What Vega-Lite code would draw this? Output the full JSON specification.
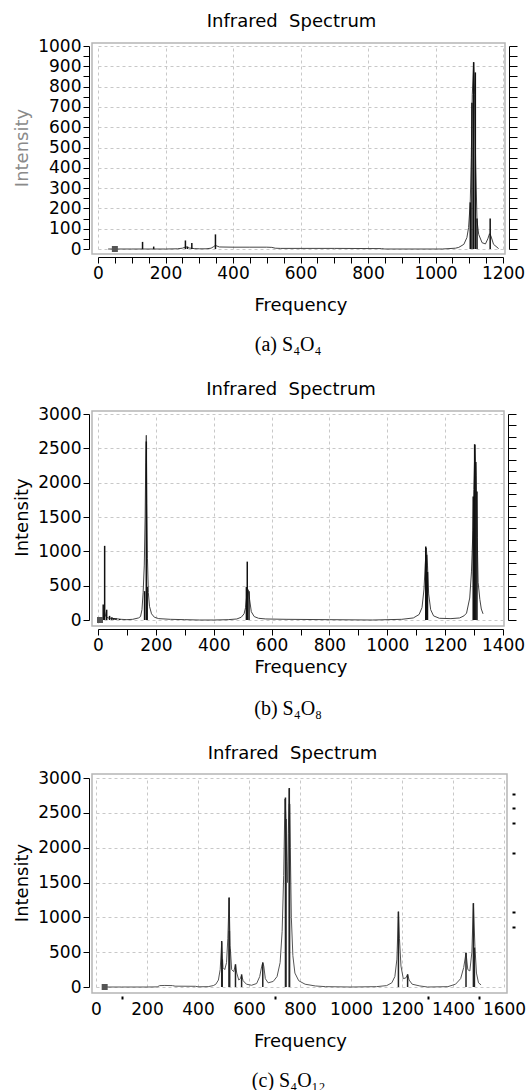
{
  "$schema": "https://vega.github.io/schema/vega-lite/v6.json",
  "padding": {"left": 12, "top": 12, "right": 0, "bottom": 0},
  "spacing": 25,
  "config": {
    "view": {"stroke": "#b5b5b5", "strokeWidth": 1.5},
    "axis": {"labelFont": "DejaVu Sans", "labelFontSize": 17, "titleFont": "DejaVu Sans", "titleFontSize": 18, "titleFontWeight": "normal", "labelColor": "#000", "titleColor": "#000", "domainColor": "#000", "tickColor": "#000", "gridColor": "#c8c8c8", "gridDash": [3, 3], "labelPadding": 2, "tickSize": 6, "labelOverlap": false, "labelFlush": false, "format": "d"},
    "title": {"font": "DejaVu Sans", "fontSize": 18, "fontWeight": "normal", "color": "#000"}
  },
  "datasets": {
    "a_curve": [
      {"frequency": 30, "intensity": 0}, {"frequency": 100, "intensity": 0}, {"frequency": 200, "intensity": 0}, {"frequency": 235, "intensity": 1}, {"frequency": 250, "intensity": 4}, {"frequency": 258, "intensity": 9}, {"frequency": 263, "intensity": 10}, {"frequency": 270, "intensity": 5}, {"frequency": 285, "intensity": 2}, {"frequency": 300, "intensity": 1}, {"frequency": 320, "intensity": 1}, {"frequency": 335, "intensity": 4}, {"frequency": 343, "intensity": 12}, {"frequency": 348, "intensity": 18}, {"frequency": 353, "intensity": 14}, {"frequency": 360, "intensity": 10}, {"frequency": 400, "intensity": 9}, {"frequency": 450, "intensity": 9}, {"frequency": 500, "intensity": 9}, {"frequency": 515, "intensity": 8}, {"frequency": 525, "intensity": 4}, {"frequency": 540, "intensity": 3}, {"frequency": 700, "intensity": 3}, {"frequency": 840, "intensity": 2}, {"frequency": 850, "intensity": 0}, {"frequency": 1020, "intensity": 0}, {"frequency": 1040, "intensity": 2}, {"frequency": 1059, "intensity": 4}, {"frequency": 1069, "intensity": 8}, {"frequency": 1084, "intensity": 23}, {"frequency": 1093, "intensity": 56}, {"frequency": 1098, "intensity": 105}, {"frequency": 1103, "intensity": 230}, {"frequency": 1106, "intensity": 450}, {"frequency": 1109, "intensity": 760}, {"frequency": 1113, "intensity": 920}, {"frequency": 1116, "intensity": 760}, {"frequency": 1119, "intensity": 420}, {"frequency": 1123, "intensity": 140}, {"frequency": 1128, "intensity": 72}, {"frequency": 1138, "intensity": 31}, {"frequency": 1148, "intensity": 25}, {"frequency": 1155, "intensity": 50}, {"frequency": 1160, "intensity": 75}, {"frequency": 1164, "intensity": 65}, {"frequency": 1172, "intensity": 23}, {"frequency": 1187, "intensity": 2}
    ],
    "a_sticks": [
      {"frequency": 132, "intensity": 35}, {"frequency": 165, "intensity": 12}, {"frequency": 259, "intensity": 42}, {"frequency": 265, "intensity": 12}, {"frequency": 278, "intensity": 30}, {"frequency": 348, "intensity": 72}, {"frequency": 1103, "intensity": 230}, {"frequency": 1108, "intensity": 720}, {"frequency": 1113, "intensity": 920}, {"frequency": 1118, "intensity": 870}, {"frequency": 1123, "intensity": 150}, {"frequency": 1162, "intensity": 150}
    ],
    "a_mark": [{"frequency": 50, "intensity": 0}],
    "b_curve": [
      {"frequency": 5, "intensity": 0}, {"frequency": 15, "intensity": 5}, {"frequency": 20, "intensity": 60}, {"frequency": 23, "intensity": 120}, {"frequency": 26, "intensity": 60}, {"frequency": 30, "intensity": 40}, {"frequency": 35, "intensity": 30}, {"frequency": 45, "intensity": 25}, {"frequency": 60, "intensity": 20}, {"frequency": 80, "intensity": 10}, {"frequency": 100, "intensity": 5}, {"frequency": 120, "intensity": 10}, {"frequency": 140, "intensity": 30}, {"frequency": 147, "intensity": 50}, {"frequency": 152, "intensity": 150}, {"frequency": 156, "intensity": 400}, {"frequency": 160, "intensity": 800}, {"frequency": 163, "intensity": 1500}, {"frequency": 165, "intensity": 2300}, {"frequency": 167, "intensity": 2690}, {"frequency": 169, "intensity": 1700}, {"frequency": 171, "intensity": 900}, {"frequency": 174, "intensity": 400}, {"frequency": 178, "intensity": 200}, {"frequency": 185, "intensity": 90}, {"frequency": 195, "intensity": 40}, {"frequency": 210, "intensity": 20}, {"frequency": 250, "intensity": 10}, {"frequency": 300, "intensity": 5}, {"frequency": 350, "intensity": 0}, {"frequency": 400, "intensity": 0}, {"frequency": 450, "intensity": 5}, {"frequency": 480, "intensity": 15}, {"frequency": 495, "intensity": 40}, {"frequency": 505, "intensity": 90}, {"frequency": 510, "intensity": 180}, {"frequency": 514, "intensity": 350}, {"frequency": 517, "intensity": 450}, {"frequency": 520, "intensity": 440}, {"frequency": 524, "intensity": 300}, {"frequency": 530, "intensity": 120}, {"frequency": 540, "intensity": 50}, {"frequency": 555, "intensity": 25}, {"frequency": 580, "intensity": 15}, {"frequency": 650, "intensity": 10}, {"frequency": 800, "intensity": 5}, {"frequency": 950, "intensity": 0}, {"frequency": 1050, "intensity": 10}, {"frequency": 1090, "intensity": 30}, {"frequency": 1110, "intensity": 80}, {"frequency": 1120, "intensity": 180}, {"frequency": 1127, "intensity": 450}, {"frequency": 1131, "intensity": 800}, {"frequency": 1135, "intensity": 1050}, {"frequency": 1139, "intensity": 800}, {"frequency": 1143, "intensity": 380}, {"frequency": 1150, "intensity": 150}, {"frequency": 1160, "intensity": 60}, {"frequency": 1180, "intensity": 25}, {"frequency": 1220, "intensity": 20}, {"frequency": 1250, "intensity": 30}, {"frequency": 1265, "intensity": 60}, {"frequency": 1274, "intensity": 100}, {"frequency": 1285, "intensity": 320}, {"frequency": 1291, "intensity": 700}, {"frequency": 1296, "intensity": 1300}, {"frequency": 1299, "intensity": 1900}, {"frequency": 1303, "intensity": 2550}, {"frequency": 1307, "intensity": 2100}, {"frequency": 1311, "intensity": 1200}, {"frequency": 1314, "intensity": 550}, {"frequency": 1320, "intensity": 300}, {"frequency": 1325, "intensity": 160}, {"frequency": 1331, "intensity": 90}
    ],
    "b_sticks": [
      {"frequency": 18, "intensity": 227}, {"frequency": 23, "intensity": 1080}, {"frequency": 30, "intensity": 150}, {"frequency": 40, "intensity": 60}, {"frequency": 48, "intensity": 40}, {"frequency": 55, "intensity": 30}, {"frequency": 62, "intensity": 25}, {"frequency": 75, "intensity": 15}, {"frequency": 161, "intensity": 420}, {"frequency": 167, "intensity": 2600}, {"frequency": 170, "intensity": 480}, {"frequency": 513, "intensity": 480}, {"frequency": 516, "intensity": 850}, {"frequency": 522, "intensity": 420}, {"frequency": 1133, "intensity": 1070}, {"frequency": 1136, "intensity": 950}, {"frequency": 1139, "intensity": 700}, {"frequency": 1297, "intensity": 1800}, {"frequency": 1300, "intensity": 1340}, {"frequency": 1302, "intensity": 2560}, {"frequency": 1306, "intensity": 2300}, {"frequency": 1310, "intensity": 1870}
    ],
    "b_mark": [{"frequency": 7, "intensity": 0}],
    "c_curve": [
      {"frequency": 30, "intensity": 0}, {"frequency": 100, "intensity": 0}, {"frequency": 200, "intensity": 0}, {"frequency": 240, "intensity": 2}, {"frequency": 250, "intensity": 20}, {"frequency": 270, "intensity": 22}, {"frequency": 300, "intensity": 20}, {"frequency": 310, "intensity": 12}, {"frequency": 390, "intensity": 10}, {"frequency": 400, "intensity": 3}, {"frequency": 440, "intensity": 5}, {"frequency": 460, "intensity": 20}, {"frequency": 470, "intensity": 40}, {"frequency": 480, "intensity": 100}, {"frequency": 487, "intensity": 250}, {"frequency": 493, "intensity": 640}, {"frequency": 498, "intensity": 280}, {"frequency": 505, "intensity": 250}, {"frequency": 512, "intensity": 350}, {"frequency": 517, "intensity": 700}, {"frequency": 522, "intensity": 1280}, {"frequency": 526, "intensity": 600}, {"frequency": 532, "intensity": 250}, {"frequency": 540, "intensity": 220}, {"frequency": 547, "intensity": 320}, {"frequency": 552, "intensity": 200}, {"frequency": 560, "intensity": 100}, {"frequency": 566, "intensity": 120}, {"frequency": 571, "intensity": 170}, {"frequency": 577, "intensity": 90}, {"frequency": 590, "intensity": 40}, {"frequency": 610, "intensity": 25}, {"frequency": 630, "intensity": 50}, {"frequency": 642, "intensity": 150}, {"frequency": 650, "intensity": 300}, {"frequency": 654, "intensity": 350}, {"frequency": 658, "intensity": 300}, {"frequency": 664, "intensity": 120}, {"frequency": 675, "intensity": 60}, {"frequency": 695, "intensity": 80}, {"frequency": 710, "intensity": 150}, {"frequency": 722, "intensity": 350}, {"frequency": 730, "intensity": 800}, {"frequency": 736, "intensity": 1600}, {"frequency": 741, "intensity": 2700}, {"frequency": 744, "intensity": 2500}, {"frequency": 748, "intensity": 1800}, {"frequency": 751, "intensity": 1500}, {"frequency": 754, "intensity": 2200}, {"frequency": 758, "intensity": 2850}, {"frequency": 762, "intensity": 2000}, {"frequency": 766, "intensity": 1000}, {"frequency": 772, "intensity": 450}, {"frequency": 780, "intensity": 200}, {"frequency": 795, "intensity": 90}, {"frequency": 820, "intensity": 40}, {"frequency": 860, "intensity": 15}, {"frequency": 900, "intensity": 5}, {"frequency": 1000, "intensity": 0}, {"frequency": 1100, "intensity": 5}, {"frequency": 1140, "intensity": 20}, {"frequency": 1160, "intensity": 60}, {"frequency": 1172, "intensity": 150}, {"frequency": 1180, "intensity": 400}, {"frequency": 1186, "intensity": 1080}, {"frequency": 1190, "intensity": 700}, {"frequency": 1196, "intensity": 300}, {"frequency": 1205, "intensity": 120}, {"frequency": 1215, "intensity": 130}, {"frequency": 1222, "intensity": 180}, {"frequency": 1228, "intensity": 100}, {"frequency": 1240, "intensity": 40}, {"frequency": 1270, "intensity": 15}, {"frequency": 1300, "intensity": 0}, {"frequency": 1380, "intensity": 5}, {"frequency": 1410, "intensity": 40}, {"frequency": 1430, "intensity": 120}, {"frequency": 1442, "intensity": 280}, {"frequency": 1451, "intensity": 490}, {"frequency": 1458, "intensity": 250}, {"frequency": 1466, "intensity": 230}, {"frequency": 1474, "intensity": 500}, {"frequency": 1480, "intensity": 1200}, {"frequency": 1486, "intensity": 580}, {"frequency": 1492, "intensity": 200}, {"frequency": 1500, "intensity": 60}, {"frequency": 1510, "intensity": 30}
    ],
    "c_sticks": [
      {"frequency": 493, "intensity": 660}, {"frequency": 495, "intensity": 400}, {"frequency": 522, "intensity": 1284}, {"frequency": 523, "intensity": 805}, {"frequency": 524, "intensity": 541}, {"frequency": 547, "intensity": 326}, {"frequency": 571, "intensity": 182}, {"frequency": 654, "intensity": 350}, {"frequency": 743, "intensity": 2720}, {"frequency": 745, "intensity": 2410}, {"frequency": 758, "intensity": 2856}, {"frequency": 759, "intensity": 2626}, {"frequency": 1186, "intensity": 1082}, {"frequency": 1222, "intensity": 182}, {"frequency": 1451, "intensity": 493}, {"frequency": 1480, "intensity": 1203}, {"frequency": 1484, "intensity": 565}
    ],
    "c_mark": [{"frequency": 34, "intensity": 0}]
  },
  "vconcat": [
    {
      "title": {"text": "(a) S₄O₄", "orient": "bottom", "anchor": "middle", "dx": 19, "font": "Liberation Serif", "fontSize": 20, "fontWeight": "normal", "offset": 20},
      "vconcat": [
        {
          "width": 413, "height": 211,
          "title": {"text": "Infrared\u00a0 Spectrum", "offset": 6, "dx": -7},
          "encoding": {
            "x": {"field": "frequency", "type": "quantitative", "scale": {"domain": [0, 1200], "range": [6, 411]},
              "axis": {"title": "Frequency", "offset": 3, "titlePadding": 15, "values": [0,50,100,150,200,250,300,350,400,450,500,550,600,650,700,750,800,850,900,950,1000,1050,1100,1150,1200], "labelExpr": "datum.value % 200 === 0 ? datum.label : ''", "gridOpacity": {"condition": {"test": "datum.value % 200 === 0", "value": 1}, "value": 0}}}
          },
          "layer": [
            {"data": {"name": "a_curve"}, "mark": {"type": "line", "color": "#444", "strokeWidth": 1},
              "encoding": {"y": {"field": "intensity", "type": "quantitative", "scale": {"domain": [0, 1000], "range": [206, 3]},
                "axis": {"orient": "left", "title": "Intensity", "titleColor": "#8a8a8a", "titlePadding": 6, "offset": 3, "values": [0,50,100,150,200,250,300,350,400,450,500,550,600,650,700,750,800,850,900,950,1000], "labelExpr": "datum.value % 100 === 0 ? datum.label : ''", "gridOpacity": {"condition": {"test": "datum.value % 100 === 0", "value": 1}, "value": 0}}}}},
            {"data": {"name": "a_sticks"}, "mark": {"type": "rule", "color": "#111", "strokeWidth": 1.5},
              "encoding": {"y": {"field": "intensity", "type": "quantitative",
                "axis": {"orient": "right", "title": null, "labels": false, "grid": false, "offset": 4, "tickSize": 8, "values": [0,50,100,150,200,250,300,350,400,450,500,550,600,650,700,750,800,850,900,950,1000]}},
                "y2": {"datum": 0}}},
            {"data": {"name": "a_mark"}, "mark": {"type": "square", "color": "#555", "size": 36, "opacity": 1, "filled": true},
              "encoding": {"y": {"field": "intensity", "type": "quantitative", "axis": null}}}
          ],
          "resolve": {"axis": {"y": "independent"}}
        }
      ]
    },
    {
      "title": {"text": "(b) S₄O₈", "orient": "bottom", "anchor": "middle", "dx": 19, "font": "Liberation Serif", "fontSize": 20, "fontWeight": "normal", "offset": 22},
      "vconcat": [
        {
          "width": 412, "height": 215,
          "title": {"text": "Infrared\u00a0 Spectrum", "offset": 6, "dx": -7},
          "encoding": {
            "x": {"field": "frequency", "type": "quantitative", "scale": {"domain": [0, 1400], "range": [6, 411]},
              "axis": {"title": "Frequency", "offset": 3, "titlePadding": 5, "values": [0,100,200,300,400,500,600,700,800,900,1000,1100,1200,1300,1400], "labelExpr": "datum.value % 200 === 0 ? datum.label : ''", "gridOpacity": {"condition": {"test": "datum.value % 200 === 0", "value": 1}, "value": 0}}}
          },
          "layer": [
            {"data": {"name": "b_curve"}, "mark": {"type": "line", "color": "#444", "strokeWidth": 1},
              "encoding": {"y": {"field": "intensity", "type": "quantitative", "scale": {"domain": [0, 3000], "range": [209, 3]},
                "axis": {"orient": "left", "title": "Intensity", "titlePadding": 6, "offset": 3, "values": [0,500,1000,1500,2000,2500,3000]}}}},
            {"data": {"name": "b_sticks"}, "mark": {"type": "rule", "color": "#111", "strokeWidth": 1.5},
              "encoding": {"y": {"field": "intensity", "type": "quantitative",
                "axis": {"orient": "right", "title": null, "labels": false, "grid": false, "offset": 4, "tickSize": 8, "values": [0,166.67,333.33,500,666.67,833.33,1000,1166.67,1333.33,1500,1666.67,1833.33,2000,2166.67,2333.33,2500,2666.67,2833.33,3000]}},
                "y2": {"datum": 0}}},
            {"data": {"name": "b_mark"}, "mark": {"type": "square", "color": "#555", "size": 36, "opacity": 1, "filled": true},
              "encoding": {"y": {"field": "intensity", "type": "quantitative", "axis": null}}}
          ],
          "resolve": {"axis": {"y": "independent"}}
        }
      ]
    },
    {
      "title": {"text": "(c) S₄O₁₂", "orient": "bottom", "anchor": "middle", "dx": 19, "font": "Liberation Serif", "fontSize": 20, "fontWeight": "normal", "offset": 20},
      "vconcat": [
        {
          "width": 415, "height": 219,
          "title": {"text": "Infrared\u00a0 Spectrum", "offset": 6, "dx": -7},
          "encoding": {
            "x": {"field": "frequency", "type": "quantitative", "scale": {"domain": [0, 1600], "range": [4, 412]},
              "axis": {"title": "Frequency", "offset": 3, "titlePadding": 15, "domain": false, "values": [0,100,200,300,400,500,600,700,800,900,1000,1100,1200,1300,1400,1500,1600], "labelExpr": "datum.value % 200 === 0 ? datum.label : ''", "tickSize": 3, "tickWidth": 2, "tickOpacity": {"condition": {"test": "indexof([100,700,1300,1500], datum.value) >= 0", "value": 1}, "value": 0}, "gridOpacity": {"condition": {"test": "datum.value % 200 === 0", "value": 1}, "value": 0}}}
          },
          "layer": [
            {"data": {"name": "c_curve"}, "mark": {"type": "line", "color": "#555", "strokeWidth": 1},
              "encoding": {"y": {"field": "intensity", "type": "quantitative", "scale": {"domain": [0, 3000], "range": [213, 4]},
                "axis": {"orient": "left", "title": "Intensity", "titlePadding": 6, "offset": 3, "values": [0,500,1000,1500,2000,2500,3000]}}}},
            {"data": {"name": "c_sticks"}, "mark": {"type": "rule", "color": "#222", "strokeWidth": 1.5},
              "encoding": {"y": {"field": "intensity", "type": "quantitative",
                "axis": {"orient": "right", "title": null, "labels": false, "grid": false, "domain": false, "offset": 5, "tickSize": 3, "tickWidth": 2, "values": [862, 1077, 1925, 2355, 2570, 2770]}},
                "y2": {"datum": 0}}},
            {"data": {"name": "c_mark"}, "mark": {"type": "square", "color": "#555", "size": 36, "opacity": 1, "filled": true},
              "encoding": {"y": {"field": "intensity", "type": "quantitative", "axis": null}}}
          ],
          "resolve": {"axis": {"y": "independent"}}
        }
      ]
    }
  ]
}
